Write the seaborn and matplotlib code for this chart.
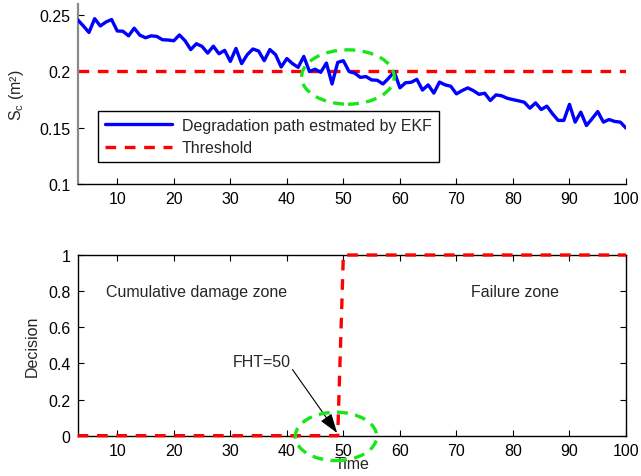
import numpy as np
import pandas as pd
import seaborn as sns
import matplotlib
matplotlib.use("Agg")
import matplotlib.pyplot as plt
from matplotlib.patches import Ellipse

# ---------------- data ----------------
time = list(range(3, 101))
sc_ekf = [0.2460, 0.2405, 0.2347, 0.2470, 0.2405, 0.2440, 0.2462, 0.2360, 0.2358, 0.2317,
          0.2385, 0.2323, 0.2300, 0.2317, 0.2312, 0.2282, 0.2280, 0.2273, 0.2325, 0.2273,
          0.2195, 0.2247, 0.2223, 0.2164, 0.2225, 0.2158, 0.2188, 0.2090, 0.2205, 0.2070,
          0.2150, 0.2200, 0.2182, 0.2096, 0.2195, 0.2150, 0.2040, 0.2115, 0.2070, 0.2037,
          0.2134, 0.2000, 0.2020, 0.1993, 0.2075, 0.1889, 0.2081, 0.2096, 0.2000, 0.1985,
          0.1948, 0.1955, 0.1925, 0.1922, 0.1889, 0.1940, 0.1998, 0.1855, 0.1900, 0.1904,
          0.1930, 0.1835, 0.1881, 0.1808, 0.1906, 0.1881, 0.1869, 0.1801, 0.1830, 0.1854,
          0.1830, 0.1797, 0.1807, 0.1742, 0.1792, 0.1784, 0.1762, 0.1750, 0.1739, 0.1727,
          0.1674, 0.1721, 0.1662, 0.1692, 0.1624, 0.1565, 0.1565, 0.1708, 0.1550, 0.1639,
          0.1520, 0.1580, 0.1644, 0.1550, 0.1573, 0.1556, 0.1550, 0.1497]
threshold_value = 0.2
threshold = [threshold_value] * len(time)
fht = 50
decision = [0 if t < fht else 1 for t in time]

top_yticks = [0.1, 0.15, 0.2, 0.25]
top_yticklabels = ["0.1", "0.15", "0.2", "0.25"]
bot_yticks = [0, 0.2, 0.4, 0.6, 0.8, 1]
bot_yticklabels = ["0", "0.2", "0.4", "0.6", "0.8", "1"]
xticks = [10, 20, 30, 40, 50, 60, 70, 80, 90, 100]

legend_labels = ["Degradation path estmated by EKF", "Threshold"]

df = pd.DataFrame({"Time": time, "Sc": sc_ekf, "Threshold": threshold, "Decision": decision})

# ---------------- style ----------------
sns.set_style("white")
plt.rcParams["font.family"] = ["Liberation Sans", "DejaVu Sans"]
plt.rcParams["mathtext.fontset"] = "custom"
plt.rcParams["mathtext.rm"] = "Liberation Sans"
plt.rcParams["mathtext.it"] = "Liberation Sans:italic"
FS = 11.5

fig = plt.figure(figsize=(6.41, 4.77), dpi=100)
ax1 = fig.add_axes([0.1212, 0.6122, 0.8554, 0.3773])
ax2 = fig.add_axes([0.1212, 0.0845, 0.8554, 0.3788])

BLUE = (0, 0, 1)
RED = (1, 0, 0)
GREEN = "#19e619"

# ---------------- top ----------------
sns.lineplot(data=df, x="Time", y="Sc", ax=ax1, color=BLUE, lw=2.4,
             label=legend_labels[0], zorder=3)
sns.lineplot(data=df, x="Time", y="Threshold", ax=ax1, color=RED, lw=2.4,
             label=legend_labels[1], zorder=2)
ax1.lines[1].set_dashes((3.2, 2.6))
ax1.set_xlim(3, 100)
ax1.set_ylim(0.1, 0.26)
ax1.set_xticks(xticks)
ax1.set_yticks(top_yticks)
ax1.set_yticklabels(top_yticklabels)
ax1.set_xlabel("")
ax1.set_ylabel(r"$\mathregular{S_c}$ (m²)", fontsize=FS, labelpad=10)
for s in ["top", "right"]:
    ax1.spines[s].set_visible(False)
ax1.spines["left"].set_color("#8a8a8a")
ax1.spines["left"].set_linewidth(1.6)
ax1.spines["bottom"].set_color("black")
ax1.spines["bottom"].set_linewidth(1.0)
ax1.tick_params(direction="in", length=4, width=0.8, labelsize=FS, pad=5,
                left=True, bottom=True, colors="black")
e1 = Ellipse((50.8, 0.1951), 16.4, 0.0483, fill=False, edgecolor=GREEN, lw=2.4,
             linestyle=(0, (3.3, 2.2)), zorder=4)
ax1.add_patch(e1)
leg = ax1.legend(loc="upper left", bbox_to_anchor=(0.0365, 0.407), borderaxespad=0,
                 fontsize=FS, frameon=True, fancybox=False, handlelength=4.2,
                 borderpad=0.45, labelspacing=0.45, handletextpad=0.6)
leg.get_frame().set_edgecolor("black")
leg.get_frame().set_linewidth(1.0)
leg.get_frame().set_alpha(1)

# ---------------- bottom ----------------
sns.lineplot(data=df, x="Time", y="Decision", ax=ax2, color=RED, lw=2.4, zorder=3,
             clip_on=False)
ax2.lines[0].set_dashes((3.2, 2.6))
ax2.set_xlim(3, 100)
ax2.set_ylim(0, 1)
ax2.set_xticks(xticks)
ax2.set_yticks(bot_yticks)
ax2.set_yticklabels(bot_yticklabels)
ax2.set_xlabel("Time", fontsize=FS, labelpad=-1)
ax2.set_ylabel("Decision", fontsize=FS, labelpad=6)
for s in ax2.spines.values():
    s.set_color("black")
    s.set_linewidth(1.0)
ax2.tick_params(direction="in", length=4, width=0.8, labelsize=FS, pad=5,
                left=True, bottom=True, right=True, top=True, colors="black")
ax2.text(8, 0.8, "Cumulative damage zone", fontsize=FS, va="center", ha="left")
ax2.text(72.5, 0.8, "Failure zone", fontsize=FS, va="center", ha="left")
ax2.text(35.5, 0.41, "FHT=50", fontsize=FS, ha="center", va="center")
ax2.annotate("", xy=(48.9, 0.015), xytext=(41.0, 0.366),
             arrowprops=dict(arrowstyle="-|>,head_length=1.2,head_width=0.4",
                             color="black", lw=0.8, shrinkA=0, shrinkB=0,
                             mutation_scale=10))
e2 = Ellipse((48.7, -0.004), 14.4, 0.268, fill=False, edgecolor=GREEN, lw=2.4,
             linestyle=(0, (3.3, 2.2)), zorder=4, clip_on=False)
ax2.add_patch(e2)

fig.savefig("out.png", dpi=100)
